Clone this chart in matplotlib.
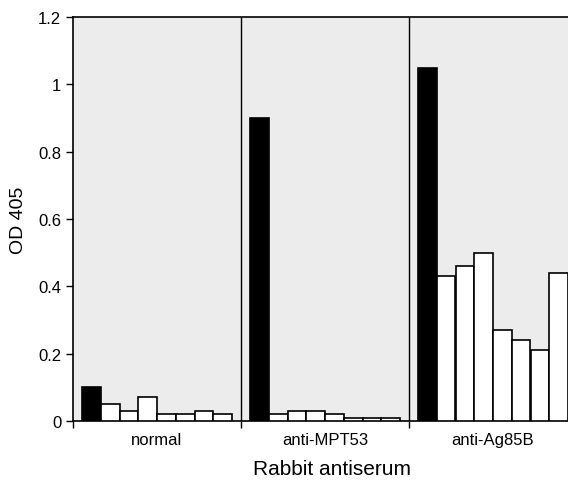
import numpy as np
import matplotlib
matplotlib.use('Agg')
import matplotlib.pyplot as plt

plt.rcParams['font.family'] = ['Liberation Sans', 'DejaVu Sans']

# groups of rabbit antiserum, first bar (black) is the immunising antigen
groups = ['normal', 'anti-MPT53', 'anti-Ag85B']
normal = [0.10, 0.05, 0.03, 0.07, 0.02, 0.02, 0.03, 0.02]
anti_mpt53 = [0.90, 0.02, 0.03, 0.03, 0.02, 0.01, 0.01, 0.01]
anti_ag85b = [1.05, 0.43, 0.46, 0.50, 0.27, 0.24, 0.21, 0.44]
yticks = [0, 0.2, 0.4, 0.6, 0.8, 1.0, 1.2]
ytick_labels = ['0', '0.2', '0.4', '0.6', '0.8', '1', '1.2']

fig = plt.figure(figsize=(5.68, 4.85), dpi=100)
W, H = 568.0, 485.0
ax = fig.add_axes([73 / W, (H - 422) / H, 504 / W, 404 / H])
ax.set_facecolor('#ececec')

n = len(normal)
margin = 9 / 168.0
bw = (1 - 2 * margin) / n
for g, vals in enumerate([normal, anti_mpt53, anti_ag85b]):
    xs = g + margin + bw * (np.arange(n) + 0.5)
    colors = ['black'] + ['white'] * (n - 1)
    ax.bar(xs, vals, width=bw, color=colors, edgecolor='black', linewidth=1.2, zorder=3)

for xd in [1, 2]:
    ax.axvline(xd, color='black', linewidth=1.0, zorder=2)

ax.set_xlim(0, 3)
ax.set_ylim(0, 1.2)
ax.set_yticks(yticks)
ax.set_yticklabels(ytick_labels, fontsize=12)
ax.set_xticks([0, 1, 2, 3])
ax.set_xticklabels([])
ax.set_xticks([0.5, 1.5, 2.5], minor=True)
ax.set_xticklabels(groups, minor=True, fontsize=12)
ax.tick_params(axis='x', which='minor', length=0, pad=8)
ax.tick_params(axis='both', which='major', direction='out', length=5, width=1)
for s in ax.spines.values():
    s.set_linewidth(1.2)

ax.set_ylabel('OD 405', fontsize=14, labelpad=8)
fig.text(332 / W, 1 - 470 / H, 'Rabbit antiserum', fontsize=15, ha='center', va='center')

fig.savefig('out.png', dpi=100)
